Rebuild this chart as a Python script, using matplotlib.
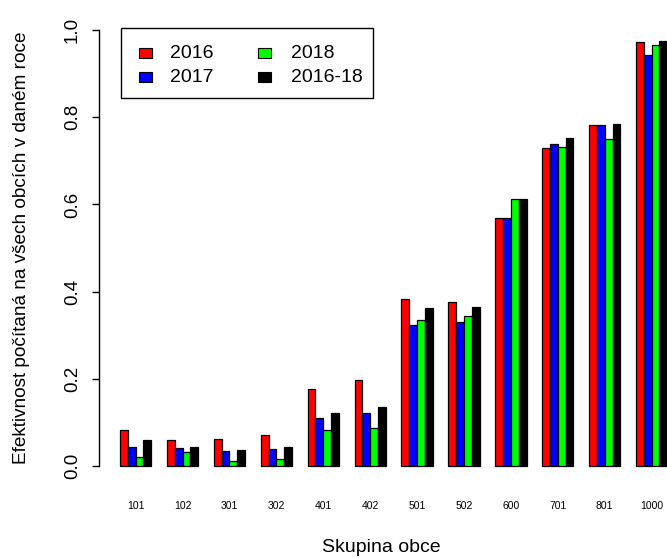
import matplotlib
matplotlib.use("Agg")
import matplotlib.pyplot as plt
from matplotlib.patches import Rectangle

plt.rcParams["font.family"] = ["Liberation Sans", "DejaVu Sans"]

# data
groups = ["101", "102", "301", "302", "401", "402", "501", "502", "600", "701", "801", "1000"]
series = ["2016", "2017", "2018", "2016-18"]
v2016 = [0.082, 0.060, 0.062, 0.070, 0.176, 0.198, 0.384, 0.375, 0.568, 0.729, 0.782, 0.973]
v2017 = [0.043, 0.041, 0.035, 0.038, 0.109, 0.122, 0.323, 0.330, 0.568, 0.738, 0.782, 0.943]
v2018 = [0.021, 0.031, 0.012, 0.015, 0.082, 0.087, 0.334, 0.343, 0.612, 0.731, 0.751, 0.965]
v1618 = [0.060, 0.044, 0.036, 0.044, 0.122, 0.135, 0.362, 0.365, 0.612, 0.752, 0.785, 0.975]
colors = ["#FF0000", "#0000FF", "#00FF00", "#000000"]

W, H = 667, 558
fig = plt.figure(figsize=(W / 100, H / 100), dpi=100)
ax = fig.add_axes([99 / W, 1 - 483.4 / H, 1 - 99 / W, (483.4 - 12.6) / H])

# barplot, beside=TRUE, space=c(0,2)
step = 6
for k, (vals, col) in enumerate(zip([v2016, v2017, v2018, v1618], colors)):
    xs = [2 + step * g + k for g in range(len(groups))]
    ax.bar(xs, vals, width=1, align="edge", color=col, edgecolor="black",
           linewidth=0.9, clip_on=False)

ax.set_xlim(-0.69, 71.97)
ax.set_ylim(-0.04, 1.04)

for s in ["top", "right", "bottom"]:
    ax.spines[s].set_visible(False)
ax.spines["left"].set_bounds(0, 1)
ax.spines["left"].set_linewidth(1.0)

ax.set_yticks([0, 0.2, 0.4, 0.6, 0.8, 1.0])
ax.set_yticklabels(["0.0", "0.2", "0.4", "0.6", "0.8", "1.0"], rotation=90,
                   va="center", fontsize=13.5)
ax.tick_params(axis="y", length=5, width=1.0, pad=8)

ax.set_xticks([2 + step * g + 2 for g in range(len(groups))])
ax.set_xticklabels(groups, fontsize=7.5)
ax.tick_params(axis="x", length=0, pad=13)

fig.text(381 / W, 1 - 548 / H, "Skupina obce", ha="center", va="center", fontsize=14)
fig.text(22 / W, 1 - 248 / H, "Efektivnost počítaná na všech obcích v daném roce",
         ha="center", va="center", rotation=90, fontsize=13.7)

# R-style legend box, drawn by hand (pixel layout -> figure fraction)
def px(x, y):
    return x / W, 1 - y / H

x0, y0 = px(120.7, 98.3)
fig.add_artist(Rectangle((x0, y0), (372.7 - 120.7) / W, 70 / H, transform=fig.transFigure,
                         facecolor="white", edgecolor="black", linewidth=1.0))
key_x = [139, 139, 258, 258]
text_x = [170, 170, 290.7, 290.7]
row_y = [53, 77, 53, 77]
for lab, c, kx, tx, ry in zip(series, colors, key_x, text_x, row_y):
    bx, by = px(kx, ry + 4.7)
    fig.add_artist(Rectangle((bx, by), 13 / W, 9.5 / H, transform=fig.transFigure,
                             facecolor=c, edgecolor="black", linewidth=0.8))
    tx_, ty_ = px(tx, ry)
    fig.text(tx_, ty_, lab, ha="left", va="center", fontsize=14)

fig.savefig("out.png", dpi=100)
